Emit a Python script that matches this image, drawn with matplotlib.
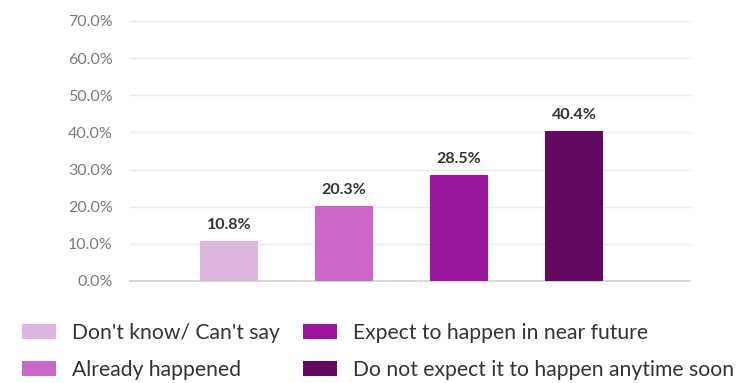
import numpy as np
import matplotlib.pyplot as plt

plt.rcParams['font.family'] = ['Lato', 'DejaVu Sans']

# data
categories = ["Don't know/ Can't say", "Already happened",
              "Expect to happen in near future", "Do not expect it to happen anytime soon"]
values = [10.8, 20.3, 28.5, 40.4]
colors = ['#DDB6DD', '#C966C8', '#9C169C', '#640864']
yticks = [0, 10, 20, 30, 40, 50, 60, 70]

fig = plt.figure(figsize=(7.56, 3.83), dpi=100)
ax = fig.add_axes([130 / 756, 1 - 281 / 383, 560 / 756, 260 / 383])

x = np.arange(len(values))
bars = ax.bar(x, values, width=0.51, color=colors, label=categories, zorder=3)

for xi, v in zip(x, values):
    ax.text(xi, v + 2.4, f'{v:.1f}%', ha='center', va='bottom',
            fontsize=11.5, fontweight='bold', color='#333333')

ax.set_xlim(-0.86, 4.01)
ax.set_ylim(0, 70)
ax.set_yticks(yticks)
ax.set_yticklabels([f'{t:.1f}%' for t in yticks])
ax.set_xticks([])
ax.tick_params(axis='y', length=0, pad=12.5, labelsize=11.5, labelcolor='#7a7a7a')
for t in yticks:
    ax.axhline(t, color='#cfcfcf' if t == 0 else '#e9e9e9', lw=1.2 if t == 0 else 1,
               zorder=1, clip_on=False)
for s in ax.spines.values():
    s.set_visible(False)

fig.legend(handles=list(bars), labels=categories, ncol=2, loc='upper left',
           bbox_to_anchor=(22 / 756, 1 - 323 / 383), frameon=False,
           fontsize=15.2, handlelength=1.6, handleheight=0.72, handletextpad=0.76,
           labelspacing=0.82, columnspacing=1.1, borderpad=0, borderaxespad=0,
           labelcolor='#333333')

fig.savefig('out.png', dpi=100)
